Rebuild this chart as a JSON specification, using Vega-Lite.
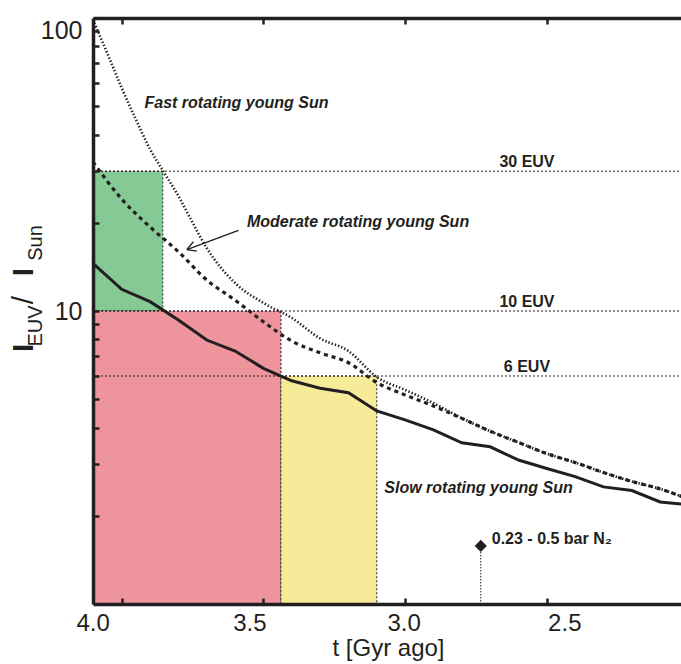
{
  "$schema": "https://vega.github.io/schema/vega-lite/v6.json",
  "autosize": "none",
  "width": 590,
  "height": 586,
  "padding": {"left": 93, "top": 18, "right": 0, "bottom": 60},
  "background": "white",
  "config": {"view": {"stroke": null}, "font": "Liberation Sans"},
  "resolve": {"axis": {"x": "independent"}},
  "datasets": {
    "zones": [
      {"zone": "g", "t1": 4.1013, "t2": 3.855, "v1": 10, "v2": 30},
      {"zone": "p", "t1": 4.1013, "t2": 3.438, "v1": 1, "v2": 10},
      {"zone": "y", "t1": 3.438, "t2": 3.10, "v1": 1, "v2": 6}
    ],
    "levels": [
      {"v": 30, "label": "30 EUV"},
      {"v": 10, "label": "10 EUV"},
      {"v": 6, "label": "6 EUV"}
    ],
    "curves": [
      {"series": "slow", "t": 4.1013, "v": 14.55},
      {"series": "slow", "t": 4.0, "v": 11.86},
      {"series": "slow", "t": 3.9, "v": 10.76},
      {"series": "slow", "t": 3.8, "v": 9.32},
      {"series": "slow", "t": 3.7, "v": 7.96},
      {"series": "slow", "t": 3.6, "v": 7.30},
      {"series": "slow", "t": 3.5, "v": 6.37},
      {"series": "slow", "t": 3.4, "v": 5.78},
      {"series": "slow", "t": 3.3, "v": 5.45},
      {"series": "slow", "t": 3.2, "v": 5.26},
      {"series": "slow", "t": 3.1, "v": 4.56},
      {"series": "slow", "t": 3.0, "v": 4.25},
      {"series": "slow", "t": 2.9, "v": 3.93},
      {"series": "slow", "t": 2.8, "v": 3.55},
      {"series": "slow", "t": 2.7, "v": 3.44},
      {"series": "slow", "t": 2.6, "v": 3.10},
      {"series": "slow", "t": 2.5, "v": 2.90},
      {"series": "slow", "t": 2.4, "v": 2.72},
      {"series": "slow", "t": 2.3, "v": 2.51},
      {"series": "slow", "t": 2.2, "v": 2.44},
      {"series": "slow", "t": 2.1, "v": 2.23},
      {"series": "slow", "t": 2.02, "v": 2.19},
      {"series": "moderate", "t": 4.1013, "v": 32.3},
      {"series": "moderate", "t": 4.0, "v": 24.1},
      {"series": "moderate", "t": 3.9, "v": 19.35},
      {"series": "moderate", "t": 3.8, "v": 15.94},
      {"series": "moderate", "t": 3.7, "v": 12.76},
      {"series": "moderate", "t": 3.6, "v": 10.89},
      {"series": "moderate", "t": 3.5, "v": 9.19},
      {"series": "moderate", "t": 3.4, "v": 7.90},
      {"series": "moderate", "t": 3.3, "v": 7.20},
      {"series": "moderate", "t": 3.2, "v": 6.66},
      {"series": "moderate", "t": 3.1, "v": 5.70},
      {"series": "moderate", "t": 3.0, "v": 5.17},
      {"series": "moderate", "t": 2.9, "v": 4.74},
      {"series": "moderate", "t": 2.8, "v": 4.30},
      {"series": "moderate", "t": 2.7, "v": 3.89},
      {"series": "moderate", "t": 2.6, "v": 3.56},
      {"series": "moderate", "t": 2.5, "v": 3.26},
      {"series": "moderate", "t": 2.4, "v": 3.04},
      {"series": "moderate", "t": 2.3, "v": 2.81},
      {"series": "moderate", "t": 2.2, "v": 2.62},
      {"series": "moderate", "t": 2.1, "v": 2.47},
      {"series": "moderate", "t": 2.02, "v": 2.32},
      {"series": "fast", "t": 4.1013, "v": 98.5},
      {"series": "fast", "t": 4.041, "v": 71.9},
      {"series": "fast", "t": 4.0, "v": 57.7},
      {"series": "fast", "t": 3.953, "v": 45.7},
      {"series": "fast", "t": 3.9, "v": 35.7},
      {"series": "fast", "t": 3.847, "v": 29.3},
      {"series": "fast", "t": 3.8, "v": 24.7},
      {"series": "fast", "t": 3.759, "v": 20.8},
      {"series": "fast", "t": 3.7, "v": 16.4},
      {"series": "fast", "t": 3.6, "v": 12.46},
      {"series": "fast", "t": 3.5, "v": 10.65},
      {"series": "fast", "t": 3.4, "v": 9.47},
      {"series": "fast", "t": 3.3, "v": 8.06},
      {"series": "fast", "t": 3.2, "v": 7.30},
      {"series": "fast", "t": 3.1, "v": 5.95},
      {"series": "fast", "t": 3.0, "v": 5.38},
      {"series": "fast", "t": 2.9, "v": 4.85},
      {"series": "fast", "t": 2.8, "v": 4.31},
      {"series": "fast", "t": 2.7, "v": 3.89},
      {"series": "fast", "t": 2.6, "v": 3.56},
      {"series": "fast", "t": 2.5, "v": 3.26},
      {"series": "fast", "t": 2.4, "v": 3.04},
      {"series": "fast", "t": 2.3, "v": 2.81},
      {"series": "fast", "t": 2.2, "v": 2.62},
      {"series": "fast", "t": 2.1, "v": 2.47},
      {"series": "fast", "t": 2.02, "v": 2.32}
    ],
    "arrow": [
      {"t": 3.588, "v": 18.83, "t2": 3.770, "v2": 16.21},
      {"t": 3.747, "v": 17.23, "t2": 3.770, "v2": 16.21},
      {"t": 3.735, "v": 16.00, "t2": 3.770, "v2": 16.21}
    ],
    "marker": [
      {"t": 2.733, "v": 1.578, "v0": 1, "label": "0.23 - 0.5 bar N₂"}
    ],
    "notes": [
      {"label": "Fast rotating young Sun", "t": 3.595, "v": 51.3},
      {"label": "Moderate rotating young Sun", "t": 3.166, "v": 20.17},
      {"label": "Slow rotating young Sun", "t": 2.741, "v": 2.49}
    ],
    "ytitle": [
      {"part": "big", "txt": "I", "t": 4.345, "v": 7.48},
      {"part": "sub", "txt": "EUV", "t": 4.302, "v": 8.89},
      {"part": "slash", "txt": "/", "t": 4.345, "v": 10.9},
      {"part": "big", "txt": "I", "t": 4.345, "v": 13.59},
      {"part": "sub", "txt": "Sun", "t": 4.302, "v": 17.07}
    ]
  },
  "layer": [
    {
      "data": {"name": "zones"},
      "mark": {"type": "rect", "stroke": "#231f20", "strokeWidth": 1, "strokeDash": [2, 2]},
      "encoding": {
        "x": {
          "field": "t1", "type": "quantitative",
          "scale": {"domain": [2.0194, 4.1013], "reverse": true, "nice": false, "zero": false},
          "axis": {
            "orient": "bottom", "title": "t [Gyr ago]", "values": [4, 3.5, 3, 2.5], "format": ".1f", "zindex": 2,
            "grid": false, "domainWidth": 3.5, "domainColor": "#231f20",
            "tickColor": "#231f20", "tickWidth": 2.5, "tickSize": -6,
            "labelFont": "Liberation Sans", "labelFontSize": 24, "labelColor": "#231f20",
            "labelPadding": 13, "labelFlush": false, "labelBound": false,
            "labelOffset": {
              "condition": [
                {"test": "datum.value == 4", "value": -29},
                {"test": "datum.value == 3.5", "value": -14},
                {"test": "datum.value == 3", "value": -1.5}
              ],
              "value": 17.5
            },
            "titleFont": "Liberation Sans", "titleFontSize": 24, "titleFontWeight": "normal",
            "titleColor": "#231f20", "titlePadding": 1
          }
        },
        "x2": {"field": "t2"},
        "y": {
          "field": "v1", "type": "quantitative",
          "scale": {"type": "log", "domain": [1, 100], "nice": false},
          "axis": {
            "orient": "left", "title": null, "zindex": 2,
            "values": [2, 3, 4, 5, 6, 7, 8, 9, 10, 20, 30, 40, 50, 60, 70, 80, 90, 100],
            "labelExpr": "datum.value == 10 || datum.value == 100 ? format(datum.value, 'd') : ''",
            "grid": false, "domainWidth": 3.5, "domainColor": "#231f20",
            "tickColor": "#231f20", "tickWidth": 2.5, "tickSize": -6,
            "labelFont": "Liberation Sans", "labelFontSize": 25, "labelColor": "#231f20",
            "labelPadding": 17, "labelFlush": true
          }
        },
        "y2": {"field": "v2"},
        "fill": {
          "field": "zone", "type": "nominal", "legend": null,
          "scale": {"domain": ["g", "p", "y"], "range": ["#85c994", "#ee949c", "#f6eb98"]}
        }
      }
    },
    {
      "data": {"name": "levels"},
      "mark": {"type": "rule", "strokeDash": [2, 2], "strokeWidth": 1, "color": "#231f20"},
      "encoding": {
        "y": {"field": "v", "type": "quantitative", "scale": {"type": "log", "domain": [1, 100], "nice": false}}
      }
    },
    {
      "data": {"name": "levels"},
      "mark": {"type": "text", "font": "Liberation Sans", "fontWeight": "bold", "fontSize": 16, "baseline": "bottom", "align": "center", "dy": -1, "color": "#231f20"},
      "encoding": {
        "x": {"datum": 2.57, "type": "quantitative", "scale": {"domain": [2.0194, 4.1013], "reverse": true, "nice": false, "zero": false}, "axis": null},
        "y": {"field": "v", "type": "quantitative", "scale": {"type": "log", "domain": [1, 100], "nice": false}},
        "text": {"field": "label"}
      }
    },
    {
      "data": {"name": "curves"},
      "transform": [{"filter": "datum.series == 'fast'"}],
      "mark": {"type": "line", "color": "#231f20", "strokeWidth": 2.6, "strokeDash": [1.4, 2], "interpolate": "monotone"},
      "encoding": {
        "x": {
          "field": "t", "type": "quantitative",
          "scale": {"domain": [2.0194, 4.1013], "reverse": true, "nice": false, "zero": false},
          "axis": {
            "orient": "top", "title": null, "labels": false, "values": [4, 3.5, 3, 2.5], "zindex": 2,
            "grid": false, "domainWidth": 3.5, "domainColor": "#231f20",
            "tickColor": "#231f20", "tickWidth": 2.5, "tickSize": -6
          }
        },
        "y": {"field": "v", "type": "quantitative", "scale": {"type": "log", "domain": [1, 100], "nice": false}}
      }
    },
    {
      "data": {"name": "curves"},
      "transform": [{"filter": "datum.series == 'moderate'"}],
      "mark": {"type": "line", "color": "#231f20", "strokeWidth": 3.2, "strokeDash": [4, 4], "interpolate": "monotone"},
      "encoding": {
        "x": {"field": "t", "type": "quantitative", "scale": {"domain": [2.0194, 4.1013], "reverse": true, "nice": false, "zero": false}, "axis": null},
        "y": {"field": "v", "type": "quantitative", "scale": {"type": "log", "domain": [1, 100], "nice": false}}
      }
    },
    {
      "data": {"name": "curves"},
      "transform": [{"filter": "datum.series == 'slow'"}],
      "mark": {"type": "line", "color": "#231f20", "strokeWidth": 3},
      "encoding": {
        "x": {"field": "t", "type": "quantitative", "scale": {"domain": [2.0194, 4.1013], "reverse": true, "nice": false, "zero": false}, "axis": null},
        "y": {"field": "v", "type": "quantitative", "scale": {"type": "log", "domain": [1, 100], "nice": false}}
      }
    },
    {
      "data": {"name": "arrow"},
      "mark": {"type": "rule", "color": "#231f20", "strokeWidth": 1.3},
      "encoding": {
        "x": {"field": "t", "type": "quantitative", "scale": {"domain": [2.0194, 4.1013], "reverse": true, "nice": false, "zero": false}, "axis": null},
        "x2": {"field": "t2"},
        "y": {"field": "v", "type": "quantitative", "scale": {"type": "log", "domain": [1, 100], "nice": false}},
        "y2": {"field": "v2"}
      }
    },
    {
      "data": {"name": "marker"},
      "mark": {"type": "rule", "color": "#231f20", "strokeWidth": 1, "strokeDash": [1.5, 1.5]},
      "encoding": {
        "x": {"field": "t", "type": "quantitative", "scale": {"domain": [2.0194, 4.1013], "reverse": true, "nice": false, "zero": false}, "axis": null},
        "y": {"field": "v", "type": "quantitative", "scale": {"type": "log", "domain": [1, 100], "nice": false}},
        "y2": {"field": "v0"}
      }
    },
    {
      "data": {"name": "marker"},
      "mark": {"type": "point", "shape": "diamond", "filled": true, "size": 150, "color": "#231f20", "opacity": 1},
      "encoding": {
        "x": {"field": "t", "type": "quantitative", "scale": {"domain": [2.0194, 4.1013], "reverse": true, "nice": false, "zero": false}, "axis": null},
        "y": {"field": "v", "type": "quantitative", "scale": {"type": "log", "domain": [1, 100], "nice": false}}
      }
    },
    {
      "data": {"name": "marker"},
      "mark": {"type": "text", "font": "Liberation Sans", "fontWeight": "bold", "fontSize": 16, "align": "left", "baseline": "middle", "dx": 11, "dy": -7, "color": "#231f20"},
      "encoding": {
        "x": {"field": "t", "type": "quantitative", "scale": {"domain": [2.0194, 4.1013], "reverse": true, "nice": false, "zero": false}, "axis": null},
        "y": {"field": "v", "type": "quantitative", "scale": {"type": "log", "domain": [1, 100], "nice": false}},
        "text": {"field": "label"}
      }
    },
    {
      "data": {"name": "notes"},
      "mark": {"type": "text", "font": "Liberation Sans", "fontWeight": "bold", "fontStyle": "italic", "fontSize": 16, "align": "center", "baseline": "middle", "color": "#231f20"},
      "encoding": {
        "x": {"field": "t", "type": "quantitative", "scale": {"domain": [2.0194, 4.1013], "reverse": true, "nice": false, "zero": false}, "axis": null},
        "y": {"field": "v", "type": "quantitative", "scale": {"type": "log", "domain": [1, 100], "nice": false}},
        "text": {"field": "label"}
      }
    },
    {
      "data": {"name": "ytitle"},
      "transform": [{"filter": "datum.part == 'big'"}],
      "mark": {"type": "text", "font": "Liberation Sans", "fontWeight": "bold", "fontSize": 30, "angle": 270, "align": "center", "baseline": "middle", "color": "#231f20"},
      "encoding": {
        "x": {"field": "t", "type": "quantitative", "scale": {"domain": [2.0194, 4.1013], "reverse": true, "nice": false, "zero": false}, "axis": null},
        "y": {"field": "v", "type": "quantitative", "scale": {"type": "log", "domain": [1, 100], "nice": false}},
        "text": {"field": "txt"}
      }
    },
    {
      "data": {"name": "ytitle"},
      "transform": [{"filter": "datum.part == 'slash'"}],
      "mark": {"type": "text", "font": "Liberation Sans", "fontSize": 30, "angle": 270, "align": "center", "baseline": "middle", "color": "#231f20"},
      "encoding": {
        "x": {"field": "t", "type": "quantitative", "scale": {"domain": [2.0194, 4.1013], "reverse": true, "nice": false, "zero": false}, "axis": null},
        "y": {"field": "v", "type": "quantitative", "scale": {"type": "log", "domain": [1, 100], "nice": false}},
        "text": {"field": "txt"}
      }
    },
    {
      "data": {"name": "ytitle"},
      "transform": [{"filter": "datum.part == 'sub'"}],
      "mark": {"type": "text", "font": "Liberation Sans", "fontSize": 20, "angle": 270, "align": "center", "baseline": "middle", "color": "#231f20"},
      "encoding": {
        "x": {"field": "t", "type": "quantitative", "scale": {"domain": [2.0194, 4.1013], "reverse": true, "nice": false, "zero": false}, "axis": null},
        "y": {"field": "v", "type": "quantitative", "scale": {"type": "log", "domain": [1, 100], "nice": false}},
        "text": {"field": "txt"}
      }
    }
  ]
}
